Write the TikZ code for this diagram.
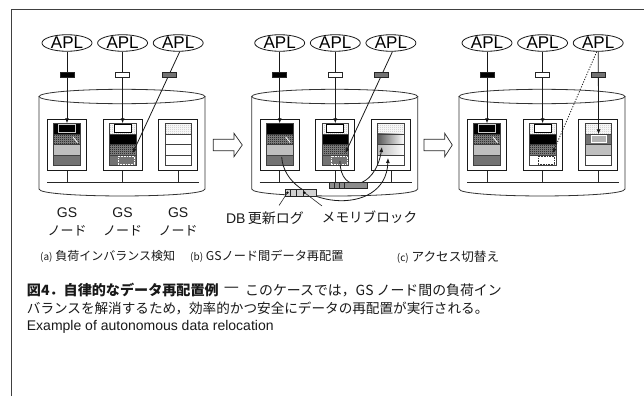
\documentclass[tikz,border=0pt]{standalone}
\usepackage{fontspec}
\setmainfont{Liberation Sans}
\newfontfamily\jp{Noto Sans CJK JP}
\usetikzlibrary{arrows.meta,patterns,shapes.geometric}
\pgfdeclarepatternformonly{finecheck}{\pgfpointorigin}{\pgfqpoint{2pt}{2pt}}{\pgfqpoint{2pt}{2pt}}{%
  \pgfpathrectangle{\pgfpointorigin}{\pgfqpoint{1pt}{1pt}}%
  \pgfpathrectangle{\pgfqpoint{1pt}{1pt}}{\pgfqpoint{1pt}{1pt}}%
  \pgfusepath{fill}}
\newcommand\fsz[1]{\fontsize{#1}{#1}\selectfont}
\tikzset{
  ln/.style={line width=0.8pt, draw=black!85},
  cyl/.style={line width=0.8pt, draw=black!80},
  apl/.style={ellipse, draw=black!90, line width=0.8pt, minimum width=50pt, minimum height=16pt, inner sep=0pt, font=\fsz{17}},
  tok/.style={draw=black!85, line width=0.6pt, minimum width=14pt, minimum height=5pt, inner sep=0pt},
  conn/.style={line width=0.8pt, draw=black!90, -{Latex[length=5pt,width=4pt]}},
  nbox/.style={line width=0.8pt, draw=black!90, fill=white},
  sepl/.style={line width=0.6pt, draw=black!75},
  dchk/.style={preaction={fill=black!45}, pattern=finecheck, pattern color=black},
  lchk/.style={preaction={fill=white}, pattern=finecheck, pattern color=black!25},
  txt/.style={inner sep=0pt, text=black!90},
  blockarrow/.style={line width=0.7pt, draw=black!85, fill=white},
}
% row fill: #1 = centre x, #2 = row number, #3 = style
\newcommand\rw[3]{\path[#3] ({#1-13.3},{112.7+10.6*#2}) rectangle ({#1+13.3},{123.3+10.6*#2});}
\newcommand\stk[1]{%
  \draw[sepl] ({#1-13.3},133.9) -- ({#1+13.3},133.9) ({#1-13.3},144.5) -- ({#1+13.3},144.5) ({#1-13.3},155.1) -- ({#1+13.3},155.1);
  \draw[sepl] ({#1-13.3},123.3) rectangle ({#1+13.3},165.7);}
\newcommand\panelbase[1]{%
  \draw[cyl] (39,96.5) -- (39,189) .. controls (39,198.3) and (205,198.3) .. (205,189) -- (205,96.5);
  \draw[cyl] (122,96.5) ellipse [x radius=83, y radius=7.2];
  \foreach \c in {67,122.6,178.2}{
    \draw[nbox] (\c-19.5,119) rectangle (\c+19.5,170.7);
    \draw[ln] (\c,170.7) -- (\c,182.7);
  }
  \draw[line width=1pt, black!85] (47,182.7) -- (199,182.7);
  \node[apl] (#1apl1) at (67,43) {APL};
  \node[apl] (#1apl2) at (122.6,43) {APL};
  \node[apl] (#1apl3) at (178.2,43) {APL};
  \coordinate (#1in1) at (67,123.3);
  \coordinate (#1in2) at (122.6,123.3);
}
\newcommand\topconn[1]{%
  \draw[conn] (#1apl1) -- node[tok, fill=black, pos=0.325] (#1tok1) {} (#1in1);
  \draw[conn] (#1apl2) -- node[tok, fill=white, pos=0.325] (#1tok2) {} (#1in2);
}
\begin{document}
\begin{tikzpicture}[x=1pt, y=-1pt]
\useasboundingbox (0,0) rectangle (644,396);
\draw[line width=0.8pt, black!75] (11,396) -- (11,9.5) -- (644,9.5);

% ================= panel (a)
\begin{scope}
  \panelbase{a}
  % box 1
  \rw{67}{1}{fill=black}
  \draw[line width=1.1pt, draw=black!20, fill=black] (58.7,124.9) rectangle (75.3,132.3);
  \rw{67}{2}{dchk}
  \draw[white, line width=0.8pt] (73,137) -- (77.5,142.5);
  \rw{67}{3}{fill=black!25}
  \rw{67}{4}{fill=black!55}
  \stk{67}
  % box 2
  \rw{122.6}{1}{lchk}
  \draw[line width=0.7pt, fill=white, draw=black] (114.1,124.8) rectangle (131.1,132.4);
  \rw{122.6}{2}{fill=black}
  \rw{122.6}{3}{dchk}
  \rw{122.6}{4}{fill=black!55}
  \draw[white, line width=0.8pt, dash pattern=on 0.8pt off 0.8pt] (118.3,156.4) rectangle (134.6,164.8);
  \stk{122.6}
  % box 3
  \rw{178.2}{1}{lchk}
  \stk{178.2}
  \topconn{a}
  \coordinate (atgt) at (132.6,153.3);
  \draw[conn] (aapl3.-80) -- node[tok, fill=black!55, pos=0.23] (atok3) {} (atgt);
\end{scope}

% ================= panel (b)
\begin{scope}[xshift=212.7pt]
  \panelbase{b}
  % box 1
  \rw{67}{1}{fill=black}
  \rw{67}{2}{dchk}
  \draw[white, line width=0.8pt] (73,137) -- (77.5,142.5);
  \rw{67}{3}{fill=black!25}
  \rw{67}{4}{fill=black!55}
  \stk{67}
  % box 2
  \rw{122.6}{1}{lchk}
  \draw[line width=0.7pt, fill=white, draw=black] (114.1,124.8) rectangle (131.1,132.4);
  \rw{122.6}{2}{fill=black}
  \rw{122.6}{3}{dchk}
  \rw{122.6}{4}{fill=black!55}
  \draw[white, line width=0.8pt, dash pattern=on 0.8pt off 0.8pt] (118.3,156.4) rectangle (134.6,164.8);
  \stk{122.6}
  % box 3
  \rw{178.2}{1}{lchk}
  \rw{178.2}{2}{left color=black!65, right color=white}
  \rw{178.2}{3}{left color=black!28, right color=white}
  \stk{178.2}
  \topconn{b}
  \coordinate (btgt) at (132.6,153.3);
  \draw[conn] (bapl3.-80) -- node[tok, fill=black!55, pos=0.23] (btok3) {} (btgt);
  % relocation curves
  \coordinate (bsrc1) at (69,157);
  \coordinate (bdst1) at (175.3,158);
  \coordinate (bsrc2) at (127.3,161);
  \coordinate (bdst2) at (169.3,147);
  \draw[conn] (bsrc1) .. controls (72.3,208) and (173.3,220) .. (bdst1);
  \draw[conn] (bsrc2) .. controls (127.3,195) and (162.3,190) .. (bdst2);
  % memory block
  \draw[line width=0.7pt, draw=black!85, fill=black!45] (116.3,182.7) rectangle (154.3,188.3);
  \draw[line width=0.6pt, black!85] (121.3,182.7) -- (121.3,188.3) (126.3,182.7) -- (126.3,188.3) (131.3,182.7) -- (131.3,188.3);
  % DB update log
  \draw[line width=0.7pt, draw=black!85, fill=black!18] (72.3,189.3) rectangle (103.3,196);
  \draw[line width=0.6pt, black!85] (77.3,189.3) -- (77.3,196) (83.8,189.3) -- (83.8,196) (90.3,189.3) -- (90.3,196);
  \fill[black] (74.8,192.6) circle (1.3);
  \fill[black] (91.8,192.6) circle (1.3);
  \coordinate (blogdot) at (74.8,192.6);
  \coordinate (bmemdot) at (91.8,192.6);
  \coordinate (bldrA) at (66.3,205.5);
  \coordinate (bldrB) at (109.3,206);
  \draw[line width=0.6pt, black!85] (blogdot) -- (bldrA);
  \draw[line width=0.6pt, black!85] (bmemdot) -- (bldrB);
\end{scope}

% ================= panel (c)
\begin{scope}[xshift=420pt]
  \panelbase{c}
  % box 1
  \rw{67}{1}{fill=black}
  \draw[line width=1.1pt, draw=black!20, fill=black] (58.7,124.9) rectangle (75.3,132.3);
  \rw{67}{2}{dchk}
  \draw[white, line width=0.8pt] (73,137) -- (77.5,142.5);
  \rw{67}{3}{fill=black!25}
  \rw{67}{4}{fill=black!55}
  \stk{67}
  % box 2
  \rw{122.6}{1}{lchk}
  \draw[line width=0.7pt, fill=white, draw=black] (114.1,124.8) rectangle (131.1,132.4);
  \rw{122.6}{2}{fill=black}
  \rw{122.6}{3}{dchk}
  \draw[black!80, line width=0.7pt, dash pattern=on 0.8pt off 0.8pt] (118.3,156.4) rectangle (134.6,164.8);
  \stk{122.6}
  % box 3
  \rw{178.2}{1}{lchk}
  \rw{178.2}{2}{fill=black!55}
  \draw[white, line width=0.9pt, fill=black!30] (171.7,135.6) rectangle (186.7,142.8);
  \rw{178.2}{3}{fill=black!25}
  \stk{178.2}
  \topconn{c}
  \coordinate (ctgt) at (132.6,153.3);
  \coordinate (cin3) at (178.6,134.3);
  \draw[conn, dash pattern=on 1.2pt off 1.5pt] ([xshift=-1.5pt]capl3.south) -- (ctgt);
  \draw[conn] (capl3) -- node[tok, fill=black!55, pos=0.282] (ctok3) {} (cin3);
\end{scope}

% ================= block arrows between panels
\draw[blockarrow] (213.3,139.3) -- (234,139.3) -- (234,133.3) -- (242.3,145) -- (234,156.7) -- (234,150.7) -- (213.3,150.7) -- cycle;
\draw[blockarrow] (424,139.3) -- (444.7,139.3) -- (444.7,133.3) -- (452.3,145) -- (444.7,156.7) -- (444.7,150.7) -- (424,150.7) -- cycle;

% ================= labels
\foreach \c/\n in {67/1,122.6/2,178.2/3}{
  \node[txt, font=\fsz{14}] (gs\n) at (\c,212.7) {GS};
  \node[txt, font=\jp\fsz{13}] (nd\n) at (\c,230.7) {ノード};
}
\node[txt, font=\fsz{14}] (dblog) at (265,218.3) {DB\,{\jp 更新ログ}};
\node[txt, anchor=west, font=\jp\fsz{13.6}] (memblk) at (321.7,216.7) {メモリブロック};

\node[txt, anchor=west, font=\jp\fsz{12}] (suba) at (40,256.7) {{\fsz{10}(a)} 負荷インバランス検知};
\node[txt, anchor=west, font=\jp\fsz{12.2}] (subb) at (190,256.7) {{\fsz{10}(b)} GSノード間データ再配置};
\node[txt, anchor=west, font=\jp\fsz{12.6}] (subc) at (396.7,256.7) {{\fsz{10}(c)} アクセス切替え};

\node[txt, anchor=west, font=\jp\bfseries\fsz{14.1}] (cap1) at (26.7,290) {図4．自律的なデータ再配置例};
\node[txt, font=\jp\fsz{17}] (capdash) at (231.5,290) {—};
\node[txt, anchor=west, font=\jp\fsz{13.9}] (cap1b) at (245,290) {このケースでは，GS ノード間の負荷イン};
\node[txt, anchor=west, font=\jp\fsz{13.6}] (cap2) at (26.7,308.3) {バランスを解消するため，効率的かつ安全にデータの再配置が実行される。};
\node[txt, anchor=west, font=\fsz{14}] (cap3) at (26.7,327.3) {Example of autonomous data relocation};
\end{tikzpicture}
\end{document}
